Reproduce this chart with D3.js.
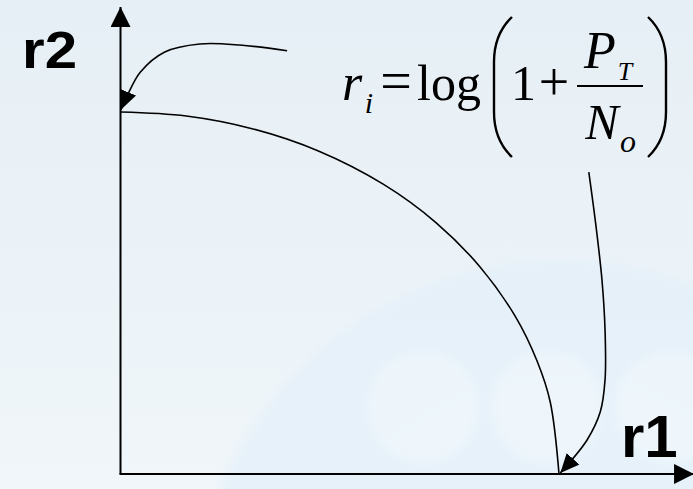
<!DOCTYPE html>
<html>
<head>
<meta charset="utf-8">
<script src="https://cdn.jsdelivr.net/npm/d3@7"></script>
<style>
  html, body { margin: 0; padding: 0; }
  body { width: 693px; height: 489px; overflow: hidden; }
  svg { display: block; }
  .axis-line { stroke: #000; stroke-width: 2; fill: none; }
  .curve { stroke: #000; stroke-width: 1.6; fill: none; }
  .callout { stroke: #000; stroke-width: 1.6; fill: none; }
  .axis-label { font-family: "Liberation Sans", Arial, sans-serif; font-weight: bold; fill: #000; }
</style>
</head>
<body>
<div id="chart"></div>
<script>
// ------------------------------------------------------------
//  Capacity region sketch: r1 vs r2
// ------------------------------------------------------------

const W = 693, H = 489;

// boundary of the rate region (normalised units)
const boundaryR1 = [0, 0.15, 0.3, 0.45, 0.6, 0.72, 0.82, 0.9, 0.95, 0.98, 1.0];
const boundaryR2 = [1, 0.989, 0.954, 0.893, 0.800, 0.694, 0.572, 0.436, 0.312, 0.199, 0];

// axis extents (arrow tips), same units
const axisMaxR1 = 1.308;
const axisMaxR2 = 1.290;

// callout arrows (same units)
const topArrowR1 = [0.380, 0.272, 0.181, 0.101, 0.045, 0.015, 0.001];
const topArrowR2 = [1.169, 1.185, 1.188, 1.166, 1.110, 1.044, 1.006];
const sideArrowR1 = [1.068, 1.084, 1.098, 1.105, 1.105, 1.094, 1.064, 1.003];
const sideArrowR2 = [0.834, 0.688, 0.536, 0.398, 0.260, 0.171, 0.094, 0.003];

const axisNames = ['r1', 'r2'];

const svg = d3.select('#chart').append('svg')
  .attr('width', W)
  .attr('height', H);

const x = d3.scaleLinear().domain([0, 1]).range([120.5, 559]);
const y = d3.scaleLinear().domain([0, 1]).range([474, 112]);

// ---- background ---------------------------------------------
const defs = svg.append('defs');
const grad = defs.append('linearGradient')
  .attr('id', 'bg').attr('x1', 0).attr('y1', 0).attr('x2', 0).attr('y2', 1);
grad.append('stop').attr('offset', '0%').attr('stop-color', '#e6eff5');
grad.append('stop').attr('offset', '100%').attr('stop-color', '#f0f6fa');

defs.append('filter').attr('id', 'soft')
  .attr('x', '-20%').attr('y', '-20%').attr('width', '140%').attr('height', '140%')
  .append('feGaussianBlur').attr('stdDeviation', 5);

svg.append('rect').attr('width', W).attr('height', H).attr('fill', 'url(#bg)');

// faint watermark in the lower right
const wm = svg.append('g').attr('class', 'watermark').attr('filter', 'url(#soft)');
wm.append('circle').attr('cx', 560).attr('cy', 625).attr('r', 365)
  .attr('fill', '#e3eff9').attr('opacity', 0.7);
wm.append('circle').attr('cx', 560).attr('cy', 625).attr('r', 250)
  .attr('fill', '#e7f2fa').attr('opacity', 0.6);
[423, 547, 671].forEach(cx => {
  wm.append('circle').attr('cx', cx).attr('cy', 407).attr('r', 56)
    .attr('fill', '#eff6fb').attr('opacity', 0.8);
});

// ---- arrow markers ------------------------------------------
function marker(id, len, wid) {
  defs.append('marker')
    .attr('id', id)
    .attr('markerUnits', 'userSpaceOnUse')
    .attr('viewBox', `${-len} ${-wid / 2} ${len} ${wid}`)
    .attr('refX', 0).attr('refY', 0)
    .attr('markerWidth', len).attr('markerHeight', wid)
    .attr('orient', 'auto')
    .append('path')
    .attr('d', `M0,0L${-len},${-wid / 2}L${-len},${wid / 2}Z`)
    .attr('fill', '#000');
}
marker('axis-head', 20, 20);
marker('callout-head', 19, 17);

// ---- axes ---------------------------------------------------
svg.append('line').attr('class', 'axis-line')
  .attr('x1', x(0)).attr('y1', y(0))
  .attr('x2', x(0)).attr('y2', y(axisMaxR2))
  .attr('marker-end', 'url(#axis-head)');

svg.append('line').attr('class', 'axis-line')
  .attr('x1', x(0) - 1).attr('y1', y(0))
  .attr('x2', x(axisMaxR1)).attr('y2', y(0))
  .attr('marker-end', 'url(#axis-head)');

svg.append('text').attr('class', 'axis-label')
  .attr('x', 22).attr('y', 68)
  .attr('font-size', 52)
  .attr('transform', 'translate(22,68) scale(1.12,1) translate(-22,-68)')
  .text(axisNames[1]);

svg.append('text').attr('class', 'axis-label')
  .attr('x', 621).attr('y', 457)
  .attr('font-size', 60)
  .text(axisNames[0]);

// ---- boundary curve -----------------------------------------
const boundary = boundaryR1.map((v, i) => [v, boundaryR2[i]]);
const line = d3.line()
  .x(d => x(d[0]))
  .y(d => y(d[1]))
  .curve(d3.curveCatmullRom.alpha(0.5));

svg.append('path').attr('class', 'curve').attr('d', line(boundary));

// ---- callout arrows -----------------------------------------
const topArrow = topArrowR1.map((v, i) => [v, topArrowR2[i]]);
const sideArrow = sideArrowR1.map((v, i) => [v, sideArrowR2[i]]);

svg.append('path').attr('class', 'callout')
  .attr('d', line(topArrow))
  .attr('marker-end', 'url(#callout-head)');

svg.append('path').attr('class', 'callout')
  .attr('d', line(sideArrow))
  .attr('marker-end', 'url(#callout-head)');

// ---- formula r_i = log(1 + P_T / N_o) -----------------------
const math = svg.append('g');
const serif = '"Liberation Serif", "Times New Roman", "DejaVu Serif", serif';

function glyph(txt, cx, by, size, italic) {
  math.append('text')
    .attr('x', cx).attr('y', by)
    .attr('text-anchor', 'middle')
    .attr('font-family', serif)
    .attr('font-size', size)
    .attr('font-style', italic ? 'italic' : 'normal')
    .attr('fill', '#000')
    .text(txt);
}

glyph('r', 352, 100, 52, true);
glyph('i', 369, 113, 30, true);
glyph('=', 396, 100, 56, false);
glyph('log', 449, 100, 50, false);
glyph('1', 523.5, 100, 50, false);
glyph('+', 554, 100, 54, false);
glyph('P', 600, 68, 52, true);
glyph('T', 625, 80, 26, true);
glyph('N', 602, 139, 50, true);
glyph('o', 628, 152, 32, true);

math.append('line')
  .attr('x1', 577).attr('x2', 643)
  .attr('y1', 86).attr('y2', 86)
  .attr('stroke', '#000').attr('stroke-width', 2);

// big parentheses
math.append('path')
  .attr('d', 'M512,17Q494,34 494,62L494,112Q494,140 512,157')
  .attr('fill', 'none').attr('stroke', '#000').attr('stroke-width', 2.4);
math.append('path')
  .attr('d', 'M648,17Q666,34 666,62L666,112Q666,140 648,157')
  .attr('fill', 'none').attr('stroke', '#000').attr('stroke-width', 2.4);
</script>
</body>
</html>
